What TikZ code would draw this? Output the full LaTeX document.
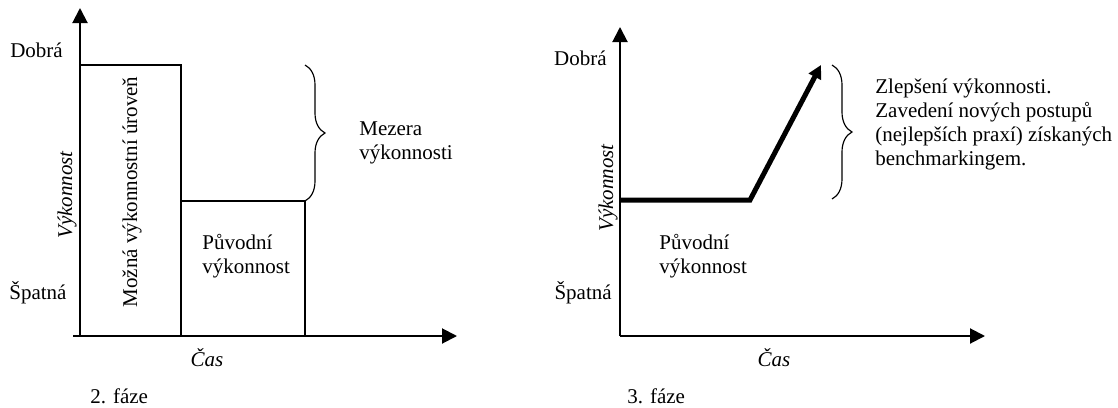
\documentclass[tikz,border=0pt]{standalone}
\usepackage{fontspec}
\setmainfont{Liberation Serif}
\usetikzlibrary{arrows.meta,decorations.pathreplacing}

\tikzset{
  txt/.style={inner sep=0pt, font=\fontsize{12.6}{14.4}\selectfont},
  ital/.style={txt, font=\fontsize{12.6}{14.4}\selectfont\itshape},
  axis/.style={line width=1.2pt, -{Triangle[length=9pt,width=9pt]}},
  bar/.style={line width=0.8pt},
  gapbrace/.style={decorate, decoration={brace, amplitude=12pt}, line width=0.7pt},
  trend/.style={line width=3pt, -{Triangle[length=8pt,width=8pt]}}
}

\begin{document}
\begin{tikzpicture}[x=0.6pt,y=-0.6pt]
\useasboundingbox (0,0) rectangle (1118,407);
% 2. faze
\coordinate (o2) at (80,336);
\coordinate (s2) at (73,336);
\coordinate (x2) at (457,336);
\coordinate (y2) at (80,8);
\draw[axis] (s2) -- (x2);
\draw[axis] (o2) -- (y2);
\draw[bar] (o2) rectangle (181,65);
\draw[bar] (181,336) rectangle (305,201);
\draw[gapbrace] (305,65) -- (305,201);

\node[txt, anchor=base west] (good2) at (10,57) {Dobrá};
\node[txt, anchor=base west] (bad2) at (9,299) {Špatná};
\node[ital, rotate=90, anchor=base] (perf2) at (72,195) {Výkonnost};
\node[txt, rotate=90, anchor=base] (level) at (137,192) {Možná výkonnostní úroveň};
\node[txt, anchor=base west, align=left] (orig2) at (202,273) {Původní\\výkonnost};
\node[txt, anchor=base west, align=left] (gap) at (359,159) {Mezera\\výkonnosti};
\node[ital, anchor=base] (time2) at (207,366) {Čas};
\node[txt, anchor=base west] (phase2) at (90,403) {2. fáze};

% 3. faze
\coordinate (o3) at (620,336);
\coordinate (x3) at (985,336);
\coordinate (y3) at (620,27);
\draw[axis] (o3) -- (x3);
\draw[axis] (o3) -- (y3);
\coordinate (flat) at (620,200);
\coordinate (bend) at (750,200);
\coordinate (peak) at (821,65);
\draw[trend] (flat) -- (bend) -- (peak);
\draw[gapbrace] (832,65) -- (832,199);

\node[txt, anchor=base east] (good3) at (607,65) {Dobrá};
\node[txt, anchor=base east] (bad3) at (612,299) {Špatná};
\node[ital, rotate=90, anchor=base] (perf3) at (613,188) {Výkonnost};
\node[txt, anchor=base west, align=left] (orig3) at (659,273) {Původní\\výkonnost};
\node[txt, anchor=base west, align=left] (better) at (875,165) {Zlepšení výkonnosti.\\Zavedení nových postupů\\(nejlepších praxí) získaných\\benchmarkingem.};
\node[ital, anchor=base] (time3) at (774,366) {Čas};
\node[txt, anchor=base west] (phase3) at (627,403) {3. fáze};
\end{tikzpicture}
\end{document}
